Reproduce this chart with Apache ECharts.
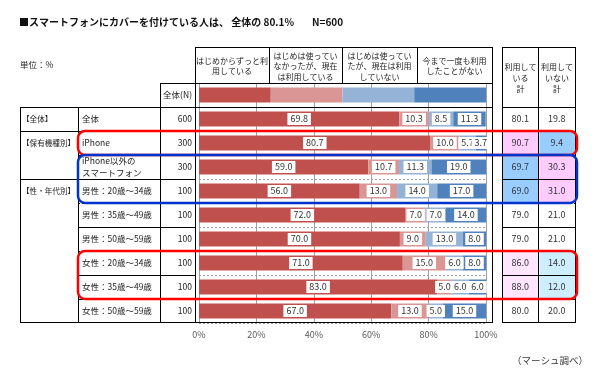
<!DOCTYPE html>
<html><head><meta charset="utf-8">
<script src="https://cdn.jsdelivr.net/npm/echarts@6/dist/echarts.min.js"></script>
<style>html,body{margin:0;padding:0;background:#fff}#c{width:600px;height:376px}</style>
</head><body><div id="c"></div>
<script>
// ---------------- data ----------------
const titleText = '■スマートフォンにカバーを付けている人は、 全体の 80.1%';
const titleN = 'N=600';
const unitText = '単位：%';
const sourceText = '（マーシュ調べ）';
const nHeader = '全体(N)';
const rowLabels = ['全体', 'iPhone', 'iPhone以外の\nスマートフォン', '男性：20歳～34歳', '男性：35歳～49歳', '男性：50歳～59歳', '女性：20歳～34歳', '女性：35歳～49歳', '女性：50歳～59歳'];
const groupLabels = ['【全体】', '【保有機種別】', '', '【性・年代別】', '', '', '', '', ''];
const sampleN = [600, 300, 300, 100, 100, 100, 100, 100, 100];
const seriesNames = ['はじめからずっと利用している', 'はじめは使っていなかったが、現在は利用している', 'はじめは使っていたが、現在は利用していない', '今まで一度も利用したことがない'];
const headerTexts = ['はじめからずっと利\n用している', 'はじめは使ってい\nなかったが、現在\nは利用している', 'はじめは使ってい\nたが、現在は利用\nしていない', '今まで一度も利用\nしたことがない'];
const legendSwatch = [25, 25, 25, 25];
const usedFromStart = [69.8, 80.7, 59.0, 56.0, 72.0, 70.0, 71.0, 83.0, 67.0];
const startedLater  = [10.3, 10.0, 10.7, 13.0, 7.0, 9.0, 15.0, 5.0, 13.0];
const stoppedUsing  = [8.5, 5.7, 11.3, 14.0, 7.0, 13.0, 6.0, 6.0, 5.0];
const neverUsed     = [11.3, 3.7, 19.0, 17.0, 14.0, 8.0, 8.0, 6.0, 15.0];
const totalHeaders = ['利用して\nいる\n計', '利用して\nいない\n計'];
const usingTotal    = [80.1, 90.7, 69.7, 69.0, 79.0, 79.0, 86.0, 88.0, 80.0];
const notUsingTotal = [19.8, 9.4, 30.3, 31.0, 21.0, 21.0, 14.0, 12.0, 20.0];

// ---------------- styles / layout ----------------
const FONT = "'Noto Sans CJK JP', 'Noto Sans', sans-serif";
const colors = ['#C0504D', '#D99694', '#95B3D7', '#4F81BD'];
const cellFill = {1: ['#FFCCFF', '#99CCFF'], 2: ['#99CCFF', '#FFCCFF'], 3: ['#99CCFF', '#FFCCFF'], 6: ['#FFE5FF', '#CCEEFF'], 7: ['#FFE5FF', '#CCEEFF']};
const TOP = 83, ROW = 24, NR = rowLabels.length + 1;
const BOTTOM = TOP + ROW * NR;
const PLOT_L = 199, PLOT_R = 486;
const rowY = i => TOP + ROW * (i + 1); // top edge of data row i
const T_L = 20, C1 = 78, C2 = 160, C3 = 195, B_R = 492, H_TOP = 47;
const R_L = 502, R_M = 538, R_R = 575;
const dashedRows = [4, 6]; // boundaries (top of row i) drawn dashed

const g = [];
function hl(x1, x2, y, dashed, color) {
  g.push({type: 'line', silent: true, z: 5, shape: {x1: x1, y1: y + 0.5, x2: x2, y2: y + 0.5},
    style: {stroke: color || '#000', lineWidth: 1, lineDash: dashed ? [2, 2] : null}});
}
function vl(x, y1, y2, color) {
  g.push({type: 'line', silent: true, z: 5, shape: {x1: x + 0.5, y1: y1, x2: x + 0.5, y2: y2},
    style: {stroke: color || '#000', lineWidth: 1}});
}
function txt(x, y, text, size, opt) {
  g.push(Object.assign({type: 'text', silent: true, z: 6, x: x, y: y,
    style: Object.assign({text: text, fontSize: size, fontFamily: FONT, fill: '#222', align: 'center', verticalAlign: 'middle', lineHeight: size + 2.5}, opt || {})}));
}
// header boxes
const hx = [C3, 269, 342, 417, B_R];
hl(C3, B_R, H_TOP); hl(C2, B_R, TOP); hl(T_L, B_R, rowY(0)); hl(T_L, B_R, BOTTOM - 1);
for (let i = 0; i < hx.length; i++) vl(hx[i], H_TOP, i === 0 || i === hx.length - 1 ? BOTTOM : TOP);
headerTexts.forEach((t, i) => txt((hx[i] + hx[i + 1]) / 2, (H_TOP + TOP) / 2 + 1, t, 8));
// left table
vl(T_L, rowY(0), BOTTOM); vl(C1, rowY(0), BOTTOM); vl(C2, TOP, BOTTOM);
for (let i = 1; i < rowLabels.length; i++) {
  const full = groupLabels[i] !== '';
  hl(full ? T_L : C1, C3, rowY(i), dashedRows.includes(i));
}
// right table
hl(R_L, R_R, H_TOP); hl(R_L, R_R, rowY(0)); hl(R_L, R_R, BOTTOM - 1);
vl(R_L, H_TOP, BOTTOM); vl(R_M, H_TOP, BOTTOM); vl(R_R, H_TOP, BOTTOM);
for (let i = 1; i < rowLabels.length; i++) hl(R_L, R_R, rowY(i), dashedRows.includes(i));
totalHeaders.forEach((t, i) => txt(i === 0 ? (R_L + R_M) / 2 + 0.5 : (R_M + R_R) / 2 + 0.5, (H_TOP + rowY(0)) / 2 + 1, t, 8, {lineHeight: 11}));
// highlight boxes
function box(r0, r1, color) {
  g.push({type: 'rect', silent: true, z: 20, shape: {x: C1, y: rowY(r0), width: R_R + 2 - C1, height: rowY(r1) - rowY(r0), r: 7},
    style: {fill: 'none', stroke: color, lineWidth: 2.5}});
}
box(1, 2, '#FF0000'); box(2, 4, '#0033CC'); box(6, 8, '#FF0000');
// texts
txt(T_L - 1, 22, titleText, 10, {align: 'left', fontWeight: 'bold', fill: '#111'});
txt(312, 22, titleN, 10, {align: 'left', fontWeight: 'bold', fill: '#111'});
txt(T_L, 65, unitText, 8.5, {align: 'left'});
txt(512, 360, sourceText, 9.5, {align: 'left', fill: '#333'});

const cats = ['凡例'].concat(rowLabels);
const seriesVals = [usedFromStart, startedLater, stoppedUsing, neverUsed];

const cellData = [];
usingTotal.forEach((v, r) => cellData.push([0, r, v]));
notUsingTotal.forEach((v, r) => cellData.push([1, r, v]));

const yBase = {type: 'category', data: cats, inverse: true, gridIndex: 0, position: 'left', offset: 0,
  axisLine: {show: false}, axisTick: {show: false}};

const option = {
  animation: false,
  backgroundColor: '#fff',
  grid: [
    {left: PLOT_L, top: TOP, width: PLOT_R - PLOT_L, height: BOTTOM - TOP, containLabel: false, outerBoundsMode: 'none'},
    {left: R_L, top: rowY(0), width: R_R - R_L, height: BOTTOM - rowY(0), containLabel: false, outerBoundsMode: 'none'}
  ],
  xAxis: [
    {type: 'value', min: 0, max: 100, interval: 20, gridIndex: 0, position: 'bottom',
      axisLine: {show: false}, axisTick: {show: false},
      splitLine: {show: true, lineStyle: {color: '#A0A0A0', width: 1}},
      axisLabel: {formatter: '{value}%', fontSize: 9, fontFamily: FONT, color: '#595959', margin: 7}},
    {type: 'category', data: ['using', 'notUsing'], gridIndex: 1, show: false}
  ],
  yAxis: [
    Object.assign({}, yBase, {
      splitLine: {show: true, interval: 0, lineStyle: {color: '#A0A0A0', type: [2, 2]}},
      axisLabel: {align: 'left', margin: PLOT_L - 82, fontSize: 8.5, fontFamily: FONT, color: '#222', lineHeight: 12, interval: 0,
        formatter: (v, i) => i === 0 ? '' : v}}),
    Object.assign({}, yBase, {
      axisLabel: {align: 'right', margin: PLOT_L - 192, fontSize: 8.5, fontFamily: FONT, color: '#222', interval: 0,
        formatter: (v, i) => i === 0 ? nHeader : String(sampleN[i - 1])}}),
    Object.assign({}, yBase, {
      axisLabel: {align: 'left', margin: PLOT_L - 22, fontSize: 7.6, fontFamily: FONT, color: '#222', interval: 0,
        formatter: (v, i) => i === 0 ? '' : groupLabels[i - 1]}}),
    {type: 'category', data: rowLabels, inverse: true, gridIndex: 1, show: false}
  ],
  series: seriesNames.map((name, k) => ({
    type: 'bar', name: name, stack: 'all', xAxisIndex: 0, yAxisIndex: 0, barWidth: 15,
    itemStyle: {color: colors[k]},
    label: {show: true, position: 'inside', fontSize: 9, fontFamily: FONT, color: '#333',
      backgroundColor: '#fff', padding: [2, 3, 1, 3], formatter: p => p.value.toFixed(1)},
    data: [{value: legendSwatch[k], label: {show: false}}].concat(seriesVals[k])
  })).concat([{
    type: 'custom', xAxisIndex: 1, yAxisIndex: 3, data: cellData,
    renderItem: function (params, api) {
      const col = api.value(0), row = api.value(1), v = api.value(2);
      const c = api.coord([col, row]);
      const s = api.size([1, 1]);
      const fill = cellFill[row] ? cellFill[row][col] : '#fff';
      return {type: 'group', children: [
        {type: 'rect', shape: {x: c[0] - s[0] / 2 + 1, y: c[1] - s[1] / 2 + 1, width: s[0] - 1, height: s[1] - 1}, style: {fill: fill}},
        {type: 'text', style: {text: v.toFixed(1), x: c[0], y: c[1], align: 'center', verticalAlign: 'middle',
          fontSize: 9, fontFamily: FONT, fill: '#333'}}
      ]};
    }
  }]),
  graphic: {elements: g}
};
echarts.init(document.getElementById('c')).setOption(option);
</script></body></html>
